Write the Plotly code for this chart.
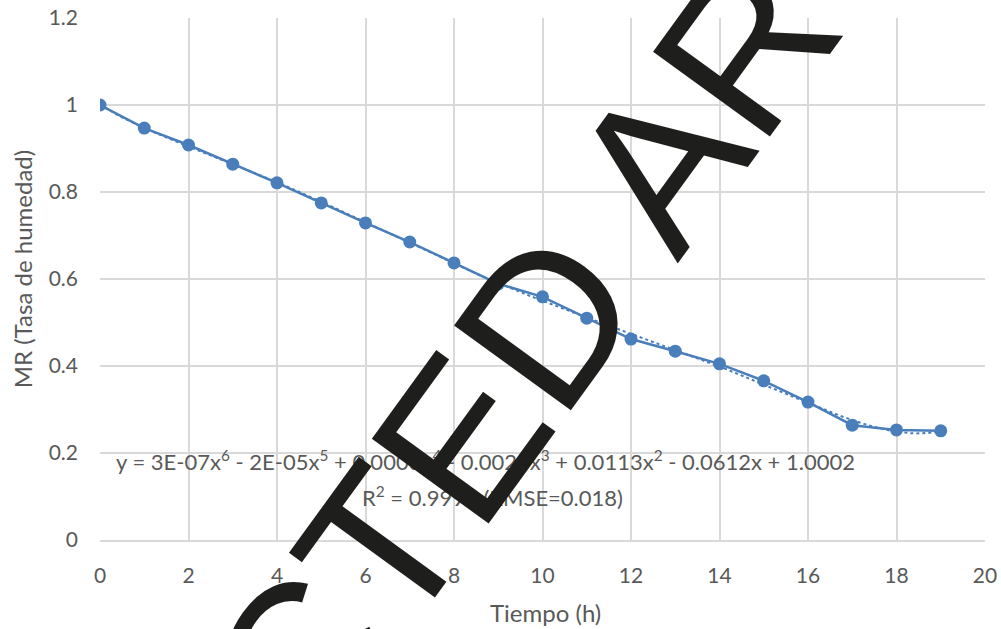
import numpy as np
import plotly.graph_objects as go

# Data
tiempo_h = [0, 1, 2, 3, 4, 5, 6, 7, 8, 9, 10, 11, 12, 13, 14, 15, 16, 17, 18, 19]
mr_values = [1.000, 0.947, 0.908, 0.864, 0.821, 0.775, 0.729, 0.685, 0.637, 0.589,
             0.559, 0.510, 0.462, 0.434, 0.405, 0.366, 0.317, 0.264, 0.253, 0.251]
x_ticks = [0, 2, 4, 6, 8, 10, 12, 14, 16, 18, 20]
y_ticks = [0, 0.2, 0.4, 0.6, 0.8, 1.0, 1.2]
y_tick_labels = ["0", "0.2", "0.4", "0.6", "0.8", "1", "1.2"]

equation_text = ("y = 3E-07x<sup>6</sup> - 2E-05x<sup>5</sup> + 0.0003x<sup>4</sup> - 0.0028x<sup>3</sup>"
                 " + 0.0113x<sup>2</sup> - 0.0612x + 1.0002")
r2_text = "R<sup>2</sup> = 0.9993 (RMSE=0.018)"
watermark_text = "RETRACTED ARTICLE"

# 6th-order polynomial trend line fitted to the data
coef = np.polyfit(tiempo_h, mr_values, 6)
xf = np.linspace(min(tiempo_h), max(tiempo_h), 200)
yf = np.polyval(coef, xf)

blue = "#4a7ebb"
grey_txt = "#595959"
font_fam = "Lato, 'Open Sans', sans-serif"

fig = go.Figure()
fig.add_trace(go.Scatter(x=xf, y=yf, mode="lines",
                         line=dict(color=blue, width=2, dash="dot"),
                         showlegend=False, hoverinfo="skip"))
fig.add_trace(go.Scatter(x=tiempo_h, y=mr_values, mode="lines+markers",
                         line=dict(color=blue, width=2.5),
                         marker=dict(color=blue, size=13),
                         showlegend=False))

fig.update_layout(
    width=1001, height=629,
    margin=dict(l=100, r=16, t=18, b=89, autoexpand=False),
    paper_bgcolor="white", plot_bgcolor="white",
    font=dict(family=font_fam, color=grey_txt, size=18),
    xaxis=dict(range=[0, 20], tickvals=x_ticks, showgrid=True, gridcolor="#d9d9d9",
               gridwidth=1.5, zeroline=False, showline=True, linecolor="#d9d9d9",
               linewidth=1.5, ticks="", ticklabelstandoff=16, automargin=False,
               tickfont=dict(size=21, color=grey_txt)),
    yaxis=dict(range=[0, 1.2], tickvals=y_ticks, ticktext=y_tick_labels, showgrid=True,
               gridcolor="#d9d9d9", gridwidth=1.5, zeroline=False, showline=False,
               ticks="", ticklabelstandoff=21, automargin=False,
               tickfont=dict(size=21, color=grey_txt)),
    annotations=[
        dict(text="Tiempo (h)", xref="paper", yref="paper", x=0.503, y=-0.138,
             xanchor="center", yanchor="middle", showarrow=False,
             font=dict(size=24, color=grey_txt)),
        dict(text="MR (Tasa de humedad)", xref="paper", yref="paper", x=-0.088, y=0.519,
             xanchor="center", yanchor="middle", showarrow=False, textangle=-90,
             font=dict(size=24, color=grey_txt)),
        dict(text=equation_text, xref="paper", yref="paper", x=0.436, y=0.153,
             xanchor="center", yanchor="middle", showarrow=False,
             font=dict(size=22, color=grey_txt)),
        dict(text=r2_text, xref="paper", yref="paper", x=0.443, y=0.084,
             xanchor="center", yanchor="middle", showarrow=False,
             font=dict(size=22, color=grey_txt)),
        dict(text=watermark_text, xref="paper", yref="paper", x=0.4384, y=0.2644,
             xanchor="center", yanchor="middle", showarrow=False, textangle=-54,
             font=dict(size=210, color="#1e1e1c", family="'Liberation Sans', Arial, sans-serif")),
    ],
)

fig.write_html("out.html")
